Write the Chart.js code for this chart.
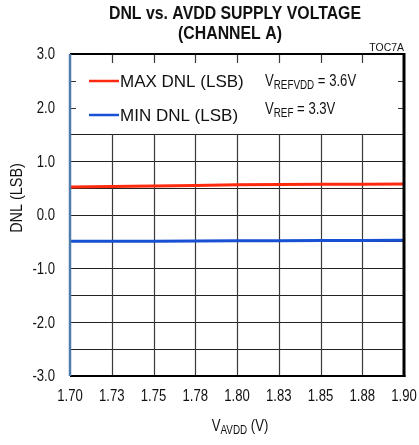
<!DOCTYPE html>
<html>
<head>
<meta charset="utf-8">
<script src="https://cdn.jsdelivr.net/npm/chart.js@4/dist/chart.umd.min.js"></script>
<style>
html,body{margin:0;padding:0;background:#fff;}
#wrap{width:419px;height:445px;position:relative;}
</style>
</head>
<body>
<div id="wrap"><canvas id="c" width="419" height="445"></canvas></div>
<script>
// ---- data ----
const categories = [1.70, 1.725, 1.75, 1.775, 1.80, 1.825, 1.85, 1.875, 1.90];
const xTickLabels = ['1.70','1.73','1.75','1.78','1.80','1.83','1.85','1.88','1.90'];
const yTickValues = [3, 2, 1, 0, -1, -2, -3];
const yTickLabels = ['3.0','2.0','1.0','0.0','-1.0','-2.0','-3.0'];
const maxDnl = [0.52, 0.53, 0.54, 0.552, 0.563, 0.57, 0.573, 0.575, 0.576];
const minDnl = [-0.49, -0.49, -0.487, -0.485, -0.482, -0.48, -0.477, -0.473, -0.47];
const seriesNames = ['MAX DNL (LSB)', 'MIN DNL (LSB)'];

const SANS = "'Liberation Sans',Arial,sans-serif";
const NX = 0.82; // horizontal condensing to imitate a narrow face

// draw a run of text parts [text, isSub, font] with horizontal scale sx
function drawRun(ctx, parts, x, y, align, sx) {
  let total = 0;
  parts.forEach(p => { ctx.font = p[2]; total += ctx.measureText(p[0]).width; });
  ctx.save();
  ctx.translate(x, y);
  ctx.scale(sx, 1);
  let cx = align === 'center' ? -total / 2 : (align === 'right' ? -total : 0);
  ctx.textAlign = 'left';
  ctx.textBaseline = 'middle';
  parts.forEach(p => {
    ctx.font = p[2];
    ctx.fillText(p[0], cx, p[1] ? 4 : 0);
    cx += ctx.measureText(p[0]).width;
  });
  ctx.restore();
}

const decor = {
  id: 'decor',
  beforeDatasetsDraw(chart) {
    const ctx = chart.ctx, a = chart.chartArea;
    const xs = chart.scales.x, ys = chart.scales.y;
    ctx.save();
    // vertical grid lines (from 1.5 down) and top stubs
    ctx.strokeStyle = '#3a3a3a';
    ctx.lineWidth = 1.2;
    const yTopGrid = ys.getPixelForValue(1.5);
    categories.forEach((v, i) => {
      if (i === 0 || i === categories.length - 1) return;
      const px = Math.round(xs.getPixelForValue(v)) + 0.5;
      ctx.beginPath();
      ctx.moveTo(px, yTopGrid); ctx.lineTo(px, a.bottom);
      ctx.moveTo(px, a.top); ctx.lineTo(px, a.top + 9);
      ctx.stroke();
    });
    // side stubs for 2.0 and 2.5
    ctx.strokeStyle = '#333';
    ctx.lineWidth = 1;
    [2.0, 2.5].forEach(v => {
      const py = Math.round(ys.getPixelForValue(v)) + 0.5;
      ctx.beginPath();
      ctx.moveTo(a.left, py); ctx.lineTo(a.left + 6, py);
      ctx.moveTo(a.right - 6, py); ctx.lineTo(a.right, py);
      ctx.stroke();
    });
    ctx.restore();
  },
  afterDatasetsDraw(chart) {
    const ctx = chart.ctx, a = chart.chartArea;
    ctx.save();
    // frame
    ctx.strokeStyle = '#000';
    ctx.lineWidth = 2;
    ctx.beginPath(); ctx.moveTo(a.left, a.top); ctx.lineTo(a.right, a.top); ctx.stroke();
    ctx.beginPath(); ctx.moveTo(a.left, a.bottom); ctx.lineTo(a.right + 1.5, a.bottom); ctx.stroke();
    ctx.lineWidth = 3;
    ctx.beginPath(); ctx.moveTo(a.right, a.top - 1); ctx.lineTo(a.right, a.bottom + 1); ctx.stroke();
    ctx.strokeStyle = '#4f7dab';
    ctx.lineWidth = 2.5;
    ctx.beginPath(); ctx.moveTo(a.left, a.top); ctx.lineTo(a.left, a.bottom); ctx.stroke();

    // legend
    const ys = chart.scales.y;
    chart.data.datasets.forEach((ds, i) => {
      const ly = Math.round(ys.getPixelForValue(2.5 - i * 0.63));
      ctx.strokeStyle = ds.borderColor;
      ctx.lineWidth = 2.5;
      ctx.beginPath(); ctx.moveTo(a.left + 19, ly); ctx.lineTo(a.left + 49, ly); ctx.stroke();
      ctx.fillStyle = '#111';
      drawRun(ctx, [[ds.label, false, '17px ' + SANS]], a.left + 50, ly + 1, 'left', 1);
    });
    // conditions
    ctx.fillStyle = '#111';
    const big = '16px ' + SANS, sub = '12px ' + SANS;
    drawRun(ctx, [['V', false, big], ['REFVDD', true, sub], [' = 3.6V', false, big]], 265, 82, 'left', NX);
    drawRun(ctx, [['V', false, big], ['REF', true, sub], [' = 3.3V', false, big]], 265, 110, 'left', NX);
    ctx.restore();
  },
  afterDraw(chart) {
    const ctx = chart.ctx, a = chart.chartArea;
    const xs = chart.scales.x, ys = chart.scales.y;
    ctx.save();
    ctx.fillStyle = '#111';
    // tick labels
    categories.forEach((v, i) => {
      drawRun(ctx, [[xTickLabels[i], false, '16px ' + SANS]], xs.getPixelForValue(v), 397, 'center', NX);
    });
    yTickValues.forEach((v, i) => {
      drawRun(ctx, [[yTickLabels[i], false, '16px ' + SANS]], 55, ys.getPixelForValue(v) + 1, 'right', NX);
    });
    // title
    drawRun(ctx, [['DNL vs. AVDD SUPPLY VOLTAGE', false, 'bold 18px ' + SANS]], 235, 14, 'center', 0.88);
    drawRun(ctx, [['(CHANNEL A)', false, 'bold 18px ' + SANS]], 230, 34, 'center', 0.88);
    drawRun(ctx, [['TOC7A', false, '11px ' + SANS]], a.right, 48, 'right', 0.95);
    // y title
    ctx.save();
    ctx.translate(18, 198);
    ctx.rotate(-Math.PI / 2);
    drawRun(ctx, [['DNL (LSB)', false, '16px ' + SANS]], 0, 0, 'center', 0.9);
    ctx.restore();
    // x title
    drawRun(ctx, [['V', false, '16px ' + SANS], ['AVDD', true, '12px ' + SANS], [' (V)', false, '16px ' + SANS]], 240, 427, 'center', NX);
    ctx.restore();
  }
};

new Chart(document.getElementById('c'), {
  type: 'line',
  data: {
    datasets: [
      { label: seriesNames[0], data: categories.map((x, i) => ({ x, y: maxDnl[i] })), borderColor: '#ff2a0e', borderWidth: 3, pointRadius: 0, tension: 0 },
      { label: seriesNames[1], data: categories.map((x, i) => ({ x, y: minDnl[i] })), borderColor: '#1750d2', borderWidth: 3, pointRadius: 0, tension: 0 }
    ]
  },
  options: {
    responsive: false,
    animation: false,
    events: [],
    layout: { padding: { top: 54, right: 15, left: 0, bottom: 0 } },
    plugins: { legend: { display: false }, title: { display: false }, tooltip: { enabled: false } },
    scales: {
      x: {
        type: 'linear', min: 1.70, max: 1.90,
        afterBuildTicks: s => { s.ticks = categories.map(v => ({ value: v })); },
        afterFit: s => { s.height = 69; s.paddingLeft = 0; s.paddingRight = 0; },
        border: { display: false },
        grid: { display: false, drawTicks: false },
        ticks: { display: false }
      },
      y: {
        min: -3, max: 3,
        afterBuildTicks: s => { const t = []; for (let k = 0; k <= 12; k++) t.push({ value: 3 - k * 0.5 }); s.ticks = t; },
        afterFit: s => { s.width = 70; s.paddingTop = 0; s.paddingBottom = 0; },
        border: { display: false },
        grid: {
          drawTicks: false, lineWidth: 1,
          color: c => (c.tick && c.tick.value <= 1.5 && c.tick.value > -3) ? '#222' : 'rgba(0,0,0,0)'
        },
        ticks: { display: false }
      }
    }
  },
  plugins: [decor]
});
</script>
</body>
</html>
